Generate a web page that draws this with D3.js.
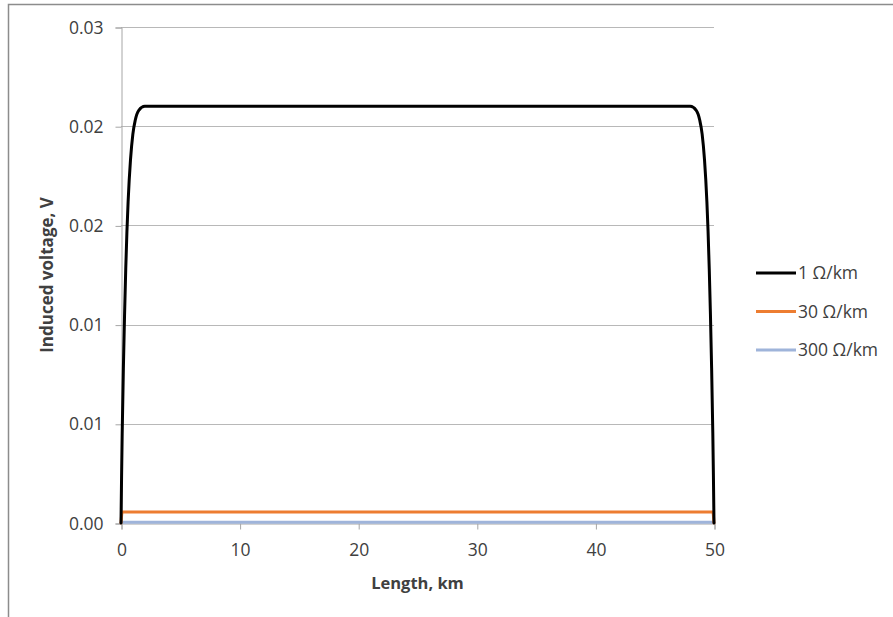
<!DOCTYPE html>
<html>
<head>
<meta charset="utf-8">
<script src="https://cdn.jsdelivr.net/npm/d3@7"></script>
<style>
  html, body { margin: 0; padding: 0; background: #fff; }
  svg { display: block; }
  text { font-family: "Open Sans", "Noto Sans", sans-serif; fill: #404040; }
</style>
</head>
<body>
<svg id="chart" width="893" height="617"></svg>
<script>
// Distance along the line, km
const length1 = [0, 0.05, 0.1, 0.2, 0.3, 0.4, 0.5, 0.6, 0.8, 1.0, 1.2, 1.5, 2.0, 3.0, 10, 20, 30, 40, 47, 48, 48.5, 48.8, 49.0, 49.2, 49.4, 49.5, 49.6, 49.7, 49.8, 49.9, 49.95, 50];
// Induced voltage for 1 Ω/km, V
const volt1 = [0, 0.0024, 0.0045, 0.0078, 0.0105, 0.0128, 0.0147, 0.0162, 0.0183, 0.0196, 0.0203, 0.0208, 0.0210, 0.0210, 0.0210, 0.0210, 0.0210, 0.0210, 0.0210, 0.0210, 0.0208, 0.0203, 0.0196, 0.0183, 0.0162, 0.0147, 0.0128, 0.0105, 0.0078, 0.0045, 0.0024, 0];

// 30 Ω/km and 300 Ω/km share a coarser grid
const length2 = [0, 0.1, 0.3, 10, 20, 30, 40, 49.7, 49.9, 50];
const volt30 = [0, 0.00055, 0.00055, 0.00055, 0.00055, 0.00055, 0.00055, 0.00055, 0.00055, 0];
const volt300 = [0, 0.00004, 0.00004, 0.00004, 0.00004, 0.00004, 0.00004, 0.00004, 0.00004, 0];

const seriesNames = ["1 Ω/km", "30 Ω/km", "300 Ω/km"];
const seriesColors = ["#000000", "#ED7D31", "#9FB4DA"];

const xTicks = [0, 10, 20, 30, 40, 50];
const yTicks = [0, 0.005, 0.01, 0.015, 0.02, 0.025];
const yTickLabels = ["0.00", "0.01", "0.01", "0.02", "0.02", "0.03"];

const series = [
  { name: seriesNames[0], color: seriesColors[0], pts: length1.map((x, i) => [x, volt1[i]]) },
  { name: seriesNames[1], color: seriesColors[1], pts: length2.map((x, i) => [x, volt30[i]]) },
  { name: seriesNames[2], color: seriesColors[2], pts: length2.map((x, i) => [x, volt300[i]]) }
];

const svg = d3.select("#chart");

// chart frame
svg.append("rect")
  .attr("x", 8.5).attr("y", 4.5)
  .attr("width", 900).attr("height", 700)
  .attr("fill", "#fff").attr("stroke", "#8c8c8c").attr("stroke-width", 1.5);

const plot = { left: 121, right: 714, top: 27, bottom: 523 };

const x = d3.scaleLinear().domain([0, 50]).range([plot.left, plot.right]);
const y = d3.scaleLinear().domain([0, 0.025]).range([plot.bottom, plot.top]);

// horizontal gridlines
svg.append("g")
  .selectAll("line")
  .data(yTicks.filter(d => d > 0))
  .join("line")
  .attr("x1", plot.left).attr("x2", plot.right)
  .attr("y1", d => Math.round(y(d)) + 0.5).attr("y2", d => Math.round(y(d)) + 0.5)
  .attr("stroke", "#b8b8b8").attr("stroke-width", 1);

// y axis
const yAxis = d3.axisLeft(y)
  .tickValues(yTicks)
  .tickSize(6)
  .tickPadding(12)
  .tickFormat((d, i) => yTickLabels[i]);
const gy = svg.append("g").attr("transform", `translate(${plot.left + 0.5},0.5)`).call(yAxis);
gy.select(".domain").attr("stroke", "#a6a6a6");
gy.selectAll(".tick line").attr("stroke", "#a6a6a6");
gy.selectAll(".tick text").style("font-size", "17.5px").attr("fill", "#404040").style("font-family", "'Open Sans', sans-serif");

// x axis
const xAxis = d3.axisBottom(x)
  .tickValues(xTicks)
  .tickSize(6)
  .tickPadding(14)
  .tickFormat(d3.format("d"));
const gx = svg.append("g").attr("transform", `translate(0.5,${plot.bottom + 0.5})`).call(xAxis);
gx.select(".domain").attr("stroke", "#a6a6a6");
gx.selectAll(".tick line").attr("stroke", "#a6a6a6");
gx.selectAll(".tick text").style("font-size", "17.5px").attr("fill", "#404040").style("font-family", "'Open Sans', sans-serif");

// series lines
const line = d3.line()
  .x(d => x(d[0]))
  .y(d => y(d[1]))
  .curve(d3.curveMonotoneX);

// draw back to front so the black curve sits on top
[2, 1, 0].forEach(i => {
  svg.append("path")
    .datum(series[i].pts)
    .attr("d", line)
    .attr("fill", "none")
    .attr("stroke", series[i].color)
    .attr("stroke-width", 3)
    .attr("stroke-linejoin", "round")
    .attr("stroke-linecap", "round");
});

// axis titles
svg.append("text")
  .attr("transform", `translate(53,${(plot.top + plot.bottom) / 2}) rotate(-90)`)
  .attr("text-anchor", "middle")
  .style("font-size", "17px").style("font-weight", "bold")
  .attr("fill", "#262626")
  .text("Induced voltage, V");

svg.append("text")
  .attr("x", (plot.left + plot.right) / 2)
  .attr("y", 589)
  .attr("text-anchor", "middle")
  .style("font-size", "16.5px").style("font-weight", "bold")
  .attr("fill", "#262626")
  .text("Length, km");

// legend
const legend = svg.append("g").attr("transform", "translate(756,273)");
series.forEach((s, i) => {
  const g = legend.append("g").attr("transform", `translate(0,${i * 38.5})`);
  g.append("line")
    .attr("x1", 0).attr("x2", 40).attr("y1", 0).attr("y2", 0)
    .attr("stroke", s.color).attr("stroke-width", 3);
  g.append("text")
    .attr("x", 42).attr("y", 0).attr("dy", "0.35em")
    .style("font-size", "17.5px")
    .attr("fill", "#404040")
    .text(s.name);
});
</script>
</body>
</html>
